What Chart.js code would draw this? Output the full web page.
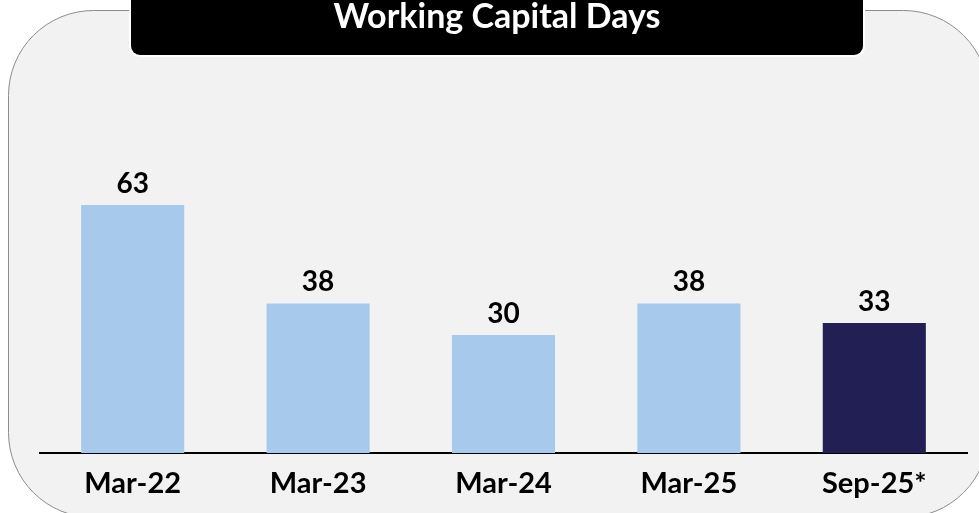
<!DOCTYPE html>
<html>
<head>
<meta charset="utf-8">
<script src="https://cdn.jsdelivr.net/npm/chart.js@4/dist/chart.umd.min.js"></script>
<style>
  html, body { margin: 0; padding: 0; background: #ffffff; }
  #wrap { width: 979px; height: 513px; }
</style>
</head>
<body>
<div id="wrap"><canvas id="myChart" width="979" height="513"></canvas></div>
<script>
const titleText = 'Working Capital Days';
const categories = ['Mar-22', 'Mar-23', 'Mar-24', 'Mar-25', 'Sep-25*'];
const days = [63, 38, 30, 38, 33];

const lightBlue = '#a6c9ec';
const navy = '#221f55';
const barColors = [lightBlue, lightBlue, lightBlue, lightBlue, navy];
const fontFamily = 'Lato, "Open Sans", sans-serif';

function roundRect(ctx, x, y, w, h, r) {
  ctx.beginPath();
  ctx.moveTo(x + r.tl, y);
  ctx.lineTo(x + w - r.tr, y);
  ctx.arcTo(x + w, y, x + w, y + r.tr, r.tr);
  ctx.lineTo(x + w, y + h - r.br);
  ctx.arcTo(x + w, y + h, x + w - r.br, y + h, r.br);
  ctx.lineTo(x + r.bl, y + h);
  ctx.arcTo(x, y + h, x, y + h - r.bl, r.bl);
  ctx.lineTo(x, y + r.tl);
  ctx.arcTo(x, y, x + r.tl, y, r.tl);
  ctx.closePath();
}

// panel + title box behind the chart
const panelPlugin = {
  id: 'panel',
  beforeDraw(chart) {
    const ctx = chart.ctx;
    ctx.save();
    roundRect(ctx, 8.5, 10.5, 980, 507, { tl: 85, tr: 85, br: 85, bl: 85 });
    ctx.fillStyle = '#f2f2f2';
    ctx.fill();
    ctx.strokeStyle = '#8c8c8c';
    ctx.lineWidth = 1;
    ctx.stroke();

    roundRect(ctx, 131, -20, 732, 75, { tl: 0, tr: 0, br: 9, bl: 9 });
    ctx.strokeStyle = '#ffffff';
    ctx.lineWidth = 4;
    ctx.stroke();
    ctx.fillStyle = '#000000';
    ctx.fill();

    ctx.fillStyle = '#ffffff';
    ctx.font = 'bold 34px ' + fontFamily;
    ctx.textAlign = 'center';
    ctx.textBaseline = 'alphabetic';
    ctx.fillText(titleText, 497, 28);
    ctx.restore();
  },
};

// value labels above bars
const valueLabels = {
  id: 'valueLabels',
  afterDatasetsDraw(chart) {
    const ctx = chart.ctx;
    const meta = chart.getDatasetMeta(0);
    ctx.save();
    ctx.fillStyle = '#000000';
    ctx.font = 'bold 28px ' + fontFamily;
    ctx.textAlign = 'center';
    ctx.textBaseline = 'alphabetic';
    meta.data.forEach((bar, i) => {
      ctx.fillText(String(days[i]), bar.x, bar.y - 12);
    });
    ctx.restore();
  },
};

const ctx = document.getElementById('myChart').getContext('2d');
const chart = new Chart(ctx, {
  type: 'bar',
  data: {
    labels: categories,
    datasets: [
      {
        data: days,
        backgroundColor: barColors,
        borderWidth: 0,
        categoryPercentage: 1,
        barPercentage: 0.556,
      },
    ],
  },
  options: {
    responsive: false,
    animation: false,
    devicePixelRatio: 1,
    layout: { padding: { left: 40, right: 12, top: 138, bottom: 0 } },
    plugins: {
      legend: { display: false },
      title: { display: false },
      tooltip: { enabled: false },
    },
    scales: {
      x: {
        grid: { display: false, drawTicks: false },
        border: { display: true, color: '#000000', width: 2 },
        ticks: {
          color: '#000000',
          padding: 13,
          font: { family: fontFamily, size: 29, weight: 'bold' },
        },
        afterFit(scale) {
          scale.height = 60;
        },
      },
      y: {
        display: false,
        min: 0,
        max: 80,
      },
    },
  },
  plugins: [panelPlugin, valueLabels],
});
</script>
</body>
</html>
